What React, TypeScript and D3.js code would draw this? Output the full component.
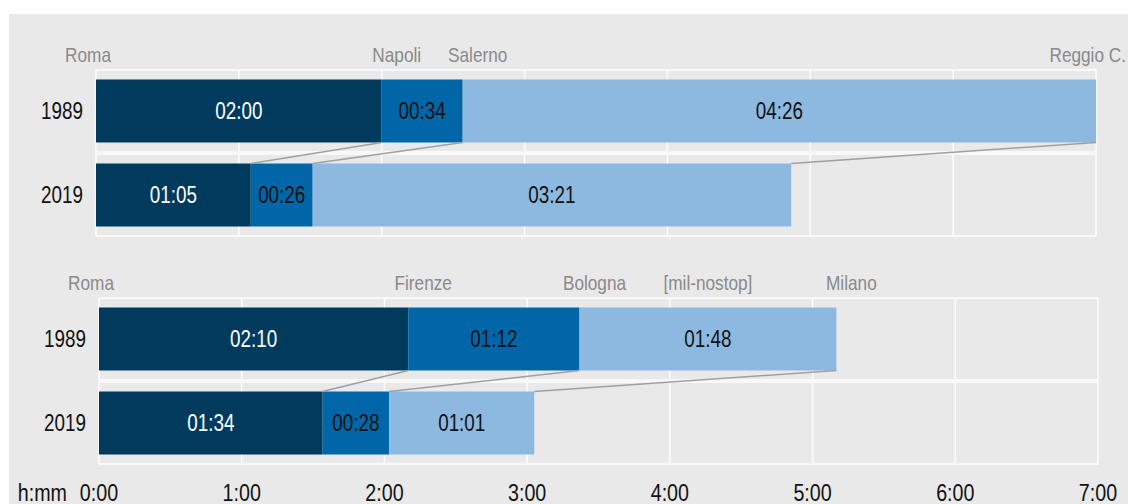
import { useEffect, useRef } from 'react'
import * as d3 from 'd3'

const W = 1128
const H = 504
// no narrow font installed: squeeze Liberation Sans horizontally instead
const FONT = '"Liberation Sans", Arial, sans-serif'
const NARROW = 0.82

// minutes per leg
const years = ['1989', '2019']
const southStations = ['Roma', 'Napoli', 'Salerno', 'Reggio C.']
const south1989 = [120, 34, 266]
const south2019 = [65, 26, 201]
const northStations = ['Roma', 'Firenze', 'Bologna', 'Milano']
const north1989 = [130, 72, 108]
const north2019 = [94, 28, 61]
const northNote = '[mil-nostop]'
const northNoteLeg = 2
const tickMinutes = [0, 60, 120, 180, 240, 300, 360, 420]
const tickLabels = ['0:00', '1:00', '2:00', '3:00', '4:00', '5:00', '6:00', '7:00']
const axisTitle = 'h:mm'

const COLORS = ['#003a5c', '#0066a8', '#8db9e0']
const TEXT_COLORS = ['#ffffff', '#111111', '#111111']

interface Chart {
  stations: string[]
  legs: number[][]
  top: number
  x0: number
  x1: number
  note?: string
  noteLeg?: number
}

const charts: Chart[] = [
  { stations: southStations, legs: [south1989, south2019], top: 70, x0: 96, x1: 1096 },
  { stations: northStations, legs: [north1989, north2019], top: 298, x0: 99, x1: 1098, note: northNote, noteLeg: northNoteLeg },
]

function fmt(m: number) {
  const h = Math.floor(m / 60)
  const mm = m % 60
  return `${String(h).padStart(2, '0')}:${String(mm).padStart(2, '0')}`
}

function cumulative(a: number[]) {
  const out = [0]
  a.forEach((v) => out.push(out[out.length - 1] + v))
  return out
}

type Sel = d3.Selection<any, unknown, null, undefined>

function label(
  parent: Sel,
  x: number,
  y: number,
  str: string,
  size: number,
  fill: string,
  anchor = 'middle',
  dy = '0',
) {
  return parent
    .append('text')
    .attr('transform', `translate(${x},${y}) scale(${NARROW},1)`)
    .attr('dy', dy)
    .attr('text-anchor', anchor)
    .attr('font-family', FONT)
    .attr('font-size', size)
    .attr('fill', fill)
    .text(str)
}

export default function App() {
  const svgRef = useRef<SVGSVGElement>(null)

  useEffect(() => {
    if (!svgRef.current) return
    const svg = d3.select(svgRef.current)
    svg.selectAll('*').remove()

    svg.append('rect').attr('x', 9).attr('y', 14).attr('width', W - 9).attr('height', H - 14).attr('fill', '#e9e9e9')

    let lastX: d3.ScaleLinear<number, number> | null = null

    charts.forEach((c) => {
      const x = d3.scaleLinear().domain([0, 420]).range([c.x0, c.x1])
      lastX = x
      const y = d3.scaleBand<string>().domain(years).range([c.top, c.top + 166]).paddingInner(0.024)
      const bw = y.bandwidth()
      const inset = 9.5
      const g = svg.append('g') as Sel

      // panels + grid
      years.forEach((yr) => {
        const y0 = y(yr)!
        g.append('rect')
          .attr('x', c.x0).attr('y', y0).attr('width', c.x1 - c.x0).attr('height', bw)
          .attr('fill', 'none').attr('stroke', '#ffffff').attr('stroke-width', 1.4)
        tickMinutes.slice(1, -1).forEach((t) => {
          g.append('line')
            .attr('x1', x(t)).attr('x2', x(t)).attr('y1', y0).attr('y2', y0 + bw)
            .attr('stroke', '#ffffff').attr('stroke-width', 1.4)
        })
      })

      const cums = c.legs.map(cumulative)

      // bars
      years.forEach((yr, r) => {
        const y0 = y(yr)! + inset
        const h = bw - 2 * inset
        const cum = cums[r]
        c.legs[r].forEach((m, i) => {
          g.append('rect')
            .attr('x', x(cum[i])).attr('y', y0)
            .attr('width', x(cum[i + 1]) - x(cum[i])).attr('height', h)
            .attr('fill', COLORS[i])
          label(g, (x(cum[i]) + x(cum[i + 1])) / 2, y0 + h / 2, fmt(m), 23, TEXT_COLORS[i], 'middle', '0.36em')
        })
        label(g, c.x0 - 13, y0 + h / 2, yr, 23, '#111111', 'end', '0.36em')
      })

      // connectors
      const yA = y(years[0])! + bw - inset
      const yB = y(years[1])! + inset
      for (let i = 1; i < cums[0].length; i++) {
        g.append('line')
          .attr('x1', x(cums[0][i])).attr('y1', yA)
          .attr('x2', x(cums[1][i])).attr('y2', yB)
          .attr('stroke', '#a0a0a0').attr('stroke-width', 1.5)
      }

      // station labels
      const labelY = c.top - 8
      c.stations.forEach((s, i) => {
        let lx = i === 0 ? x(cums[0][i]) - 8 : x(cums[0][i]) + 15
        let anchor = 'middle'
        if (lx + 30 > W) {
          lx = W - 2
          anchor = 'end'
        }
        label(g, lx, labelY, s, 21, '#8a8a8a', anchor)
      })
      if (c.note && c.noteLeg !== undefined) {
        const k = c.noteLeg
        label(g, (x(cums[0][k]) + x(cums[0][k + 1])) / 2, labelY, c.note, 21, '#8a8a8a')
      }
    })

    // x axis under the last chart
    const x = lastX!
    const axisY = 501
    const root = svg as unknown as Sel
    tickMinutes.forEach((t, i) => {
      label(root, x(t), axisY, tickLabels[i], 24, '#111111')
    })
    label(root, x(0) - 32, axisY, axisTitle, 24, '#111111', 'end')
  }, [])

  return (
    <div style={{ position: 'absolute', left: 0, top: 0 }}>
      <svg ref={svgRef} width={W} height={H} style={{ display: 'block' }} />
    </div>
  )
}
